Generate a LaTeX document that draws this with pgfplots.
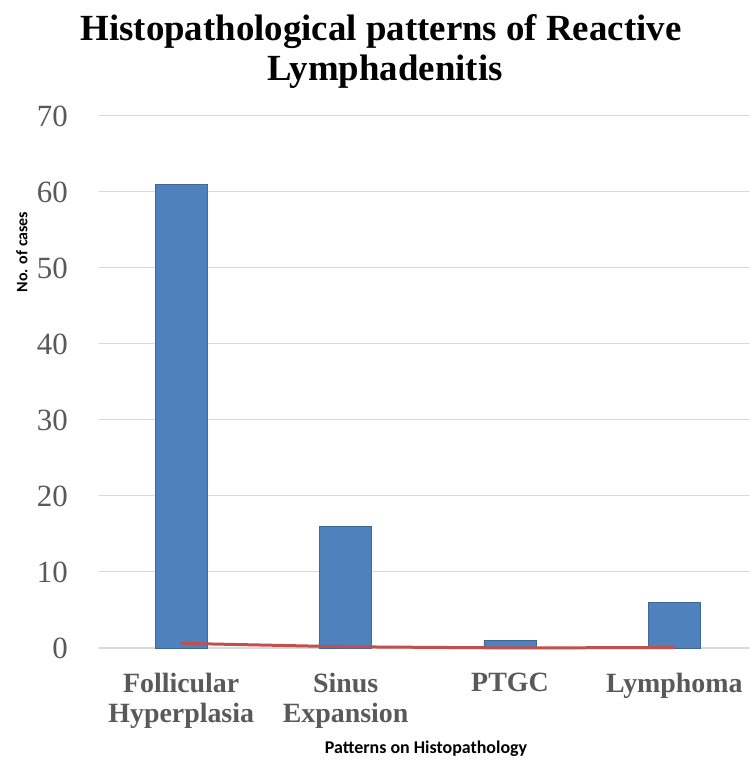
\documentclass[border=0pt]{standalone}
\usepackage{pgfplots}
\pgfplotsset{compat=1.18}
\usepackage{fontspec}
\setmainfont{Liberation Serif}
\newfontfamily\calib{Carlito}
\definecolor{barblue}{HTML}{4F81BD}
\definecolor{linered}{HTML}{C0504D}
\definecolor{tickgray}{HTML}{595959}
\definecolor{gridgray}{HTML}{D9D9D9}
\begin{document}
\begin{tikzpicture}[x=1bp,y=1bp]
\useasboundingbox (-99,-113) rectangle (651,648);
\begin{axis}[
  at={(0,0)}, anchor=origin,
  scale only axis,
  width=651bp, height=532bp,
  xmin=0.5, xmax=4.46,
  ymin=0, ymax=70,
  ytick={0,10,...,70},
  xtick={1,2,3,4},
  xticklabels={{Follicular\\Hyperplasia},{Sinus\\Expansion},{PTGC},{Lymphoma}},
  xticklabel style={align=center, font=\fontsize{28}{30}\selectfont\bfseries, text=tickgray, anchor=north, inner sep=0pt, yshift=-25bp},
  yticklabel style={font=\fontsize{31}{33}\selectfont, text=tickgray, anchor=east, inner sep=0pt, xshift=-31bp},
  /pgf/number format/assume math mode=true,
  ymajorgrids, grid style={gridgray, line width=1bp},
  axis line style={draw=none},
  axis x line*=bottom,
  x axis line style={draw=gridgray, line width=1.5bp},
  major tick length=0pt,
  tick style={draw=none},
  clip=false,
]
\addplot[ybar, bar width=52bp, fill=barblue, draw=barblue!80!black, line width=0.3bp] coordinates {(1,61) (2,16) (3,1) (4,6)};
\addplot[linered, line width=3bp, mark=none] coordinates {(1,0.61) (2,0.16) (3,0.01) (4,0.06)};
\end{axis}
\node[font=\fontsize{37}{38}\selectfont\bfseries, anchor=base, inner sep=0pt] at (282,607) {Histopathological patterns of Reactive};
\node[font=\fontsize{37}{38}\selectfont\bfseries, anchor=base, inner sep=0pt] at (286,567) {Lymphadenitis};
\node[rotate=90, font=\calib\fontsize{16}{17}\selectfont\bfseries] at (-77,396) {No. of cases};
\node[font=\calib\fontsize{18}{19}\selectfont\bfseries] at (327,-101) {Patterns on Histopathology};
\end{tikzpicture}
\end{document}
